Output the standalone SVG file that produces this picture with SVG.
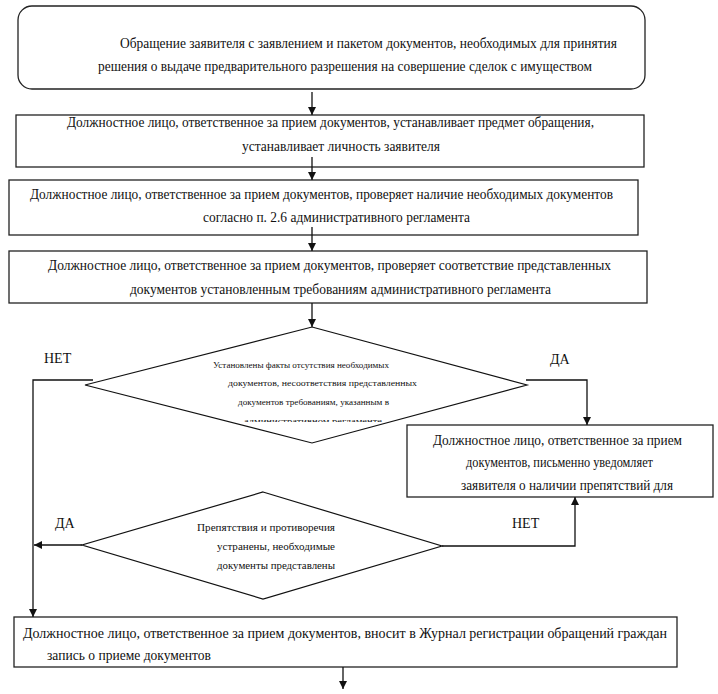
<svg xmlns="http://www.w3.org/2000/svg" width="718" height="694" viewBox="0 0 718 694" font-family="'Liberation Serif', 'DejaVu Serif', serif">
<style>
.box{fill:#fff;stroke:#222;stroke-width:1.3}
.dia{fill:#fff;stroke:#111;stroke-width:1.2}
text{font-family:'Liberation Serif','DejaVu Serif',serif;fill:#111}
.t{font-size:14px}
.s{font-size:9px}
.m{font-size:11px}
.lbl{font-size:14px}
.c{fill:none;stroke:#111;stroke-width:1.3}
</style>
<defs>
<marker id="ah" viewBox="0 0 10 10" refX="10" refY="5" markerWidth="8" markerHeight="8" markerUnits="userSpaceOnUse" orient="auto">
<path d="M0,0 L10,5 L0,10 z" fill="#111"/>
</marker>
<clipPath id="clipD1"><rect x="200" y="350" width="230" height="72"/></clipPath>
</defs>

<g id="node-start">
<rect class="box" x="18" y="6" width="627" height="83" rx="14" ry="14"/>
<text class="t" x="120" y="48" textLength="497" lengthAdjust="spacingAndGlyphs">Обращение заявителя с заявлением и пакетом документов, необходимых для принятия</text>
<text class="t" x="98" y="71" textLength="494" lengthAdjust="spacingAndGlyphs">решения о выдаче предварительного разрешения на совершение сделок с имуществом</text>
</g>

<g id="node-subject">
<rect class="box" x="16" y="115" width="628" height="52"/>
<text class="t" x="67" y="127" textLength="527" lengthAdjust="spacingAndGlyphs">Должностное лицо, ответственное за прием документов, устанавливает предмет обращения,</text>
<text class="t" x="242" y="151" textLength="198" lengthAdjust="spacingAndGlyphs">устанавливает личность заявителя</text>
</g>

<g id="node-check-presence">
<rect class="box" x="9" y="180" width="629" height="55"/>
<text class="t" x="30" y="199" textLength="583" lengthAdjust="spacingAndGlyphs">Должностное лицо, ответственное за прием документов, проверяет наличие необходимых документов</text>
<text class="t" x="203" y="222" textLength="267" lengthAdjust="spacingAndGlyphs">согласно п. 2.6 административного регламента</text>
</g>

<g id="node-check-conformity">
<rect class="box" x="9" y="251" width="638" height="52"/>
<text class="t" x="48" y="270" textLength="563" lengthAdjust="spacingAndGlyphs">Должностное лицо, ответственное за прием документов, проверяет соответствие представленных</text>
<text class="t" x="130" y="294" textLength="421" lengthAdjust="spacingAndGlyphs">документов установленным требованиям административного регламента</text>
</g>

<g id="node-decision1">
<polygon class="dia" points="312,327 527,385 312,443 85,385"/>
<g clip-path="url(#clipD1)">
<text class="s" x="213" y="368" textLength="176" lengthAdjust="spacingAndGlyphs">Установлены факты отсутствия необходимых</text>
<text class="s" x="228" y="386" textLength="189" lengthAdjust="spacingAndGlyphs">документов, несоответствия представленных</text>
<text class="s" x="238" y="405" textLength="151" lengthAdjust="spacingAndGlyphs">документов требованиям, указанным  в</text>
<text class="s" x="244" y="424" textLength="138" lengthAdjust="spacingAndGlyphs">административном регламенте</text>
</g>
</g>

<g id="node-notify">
<rect class="box" x="407" y="425" width="306" height="72"/>
<text class="t" x="433" y="445" textLength="249" lengthAdjust="spacingAndGlyphs">Должностное лицо, ответственное за прием</text>
<text class="t" x="466" y="467" textLength="187" lengthAdjust="spacingAndGlyphs">документов, письменно уведомляет</text>
<text class="t" x="461" y="490" textLength="212" lengthAdjust="spacingAndGlyphs">заявителя о наличии препятствий для</text>
</g>

<g id="node-decision2">
<polygon class="dia" points="263,492 442,546 263,599 82,545"/>
<text class="m" x="197" y="531" textLength="138" lengthAdjust="spacingAndGlyphs">Препятствия и противоречия</text>
<text class="m" x="217" y="550" textLength="118" lengthAdjust="spacingAndGlyphs">устранены, необходимые</text>
<text class="m" x="217" y="569" textLength="118" lengthAdjust="spacingAndGlyphs">документы представлены</text>
</g>

<g id="node-register">
<rect class="box" x="14" y="617" width="663" height="50"/>
<text class="t" x="23" y="638" textLength="644" lengthAdjust="spacing">Должностное лицо, ответственное за прием  документов, вносит в Журнал регистрации обращений граждан</text>
<text class="t" x="47" y="660" textLength="164" lengthAdjust="spacingAndGlyphs">запись о приеме документов</text>
</g>

<g id="connectors">
<line class="c" x1="312" y1="92" x2="312" y2="115" marker-end="url(#ah)"/>
<line class="c" x1="312" y1="157" x2="312" y2="180" marker-end="url(#ah)"/>
<line class="c" x1="312" y1="227" x2="312" y2="251" marker-end="url(#ah)"/>
<line class="c" x1="312" y1="303" x2="312" y2="327" marker-end="url(#ah)"/>
<polyline class="c" points="93,380 33,380 33,617" marker-end="url(#ah)"/>
<polyline class="c" points="526,380 587,380 587,425" marker-end="url(#ah)"/>
<polyline class="c" points="442,546 575,546 575,497" marker-end="url(#ah)"/>
<line class="c" x1="82" y1="545" x2="34" y2="545" marker-end="url(#ah)"/>
<line class="c" x1="343" y1="667" x2="343" y2="689" marker-end="url(#ah)"/>
</g>

<g id="labels">
<text class="lbl" x="44" y="363">НЕТ</text>
<text class="lbl" x="550" y="364">ДА</text>
<text class="lbl" x="55" y="528">ДА</text>
<text class="lbl" x="512" y="528">НЕТ</text>
</g>
</svg>
